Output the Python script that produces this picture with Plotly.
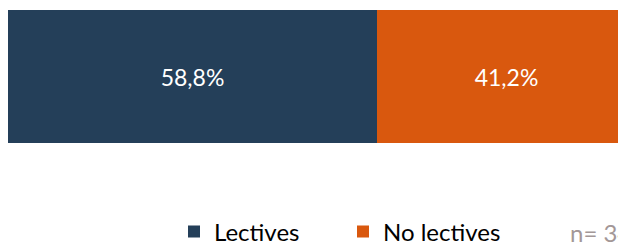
import plotly.graph_objects as go

categories = [""]
series_names = ["Lectives", "No lectives"]
lectives = [58.8]
no_lectives = [41.2]
colors = ["#243F59", "#D9580E"]
n_label = "n= 34"

# page body has an 8px margin; figure is taller than the window so the
# legend never pushes the plot margins (the overflow is simply not shown)
W, H = 618, 270
OFF = 8
fig = go.Figure()
for name, vals, col in zip(series_names, [lectives, no_lectives], colors):
    fig.add_trace(go.Bar(
        y=categories, x=vals, name=name, orientation="h",
        marker=dict(color=col, line=dict(width=0)),
        texttemplate="%{x:.1f}%", textposition="inside",
        insidetextanchor="middle", constraintext="none",
        textfont=dict(family="Lato", size=23, color="white"),
    ))

plot_top, plot_bot = 10, 143
ph = plot_bot - plot_top
leg_y = 232
fig.update_layout(
    width=W, height=H, barmode="stack", bargap=0,
    separators=",.",
    margin=dict(l=0, r=0, t=plot_top - OFF, b=H - (plot_bot - OFF)),
    plot_bgcolor="white", paper_bgcolor="white",
    xaxis=dict(range=[0, 98.48], visible=False, fixedrange=True),
    yaxis=dict(range=[-0.5, 0.5], visible=False),
    showlegend=True,
    legend=dict(orientation="h", x=(214 - 40 - OFF) / 618, xanchor="left",
                y=(plot_bot - leg_y) / ph, yanchor="middle",
                font=dict(family="Lato", size=24, color="#000000"),
                entrywidth=124, entrywidthmode="pixels",
                traceorder="normal", bgcolor="rgba(0,0,0,0)"),
    annotations=[dict(text=n_label, xref="paper", yref="paper",
                      x=(568 - OFF) / 618, xanchor="left",
                      y=(plot_bot - leg_y) / ph, yanchor="middle", showarrow=False,
                      font=dict(family="Lato", size=24, color="#A39797"))],
)
fig.write_html("out.html")
